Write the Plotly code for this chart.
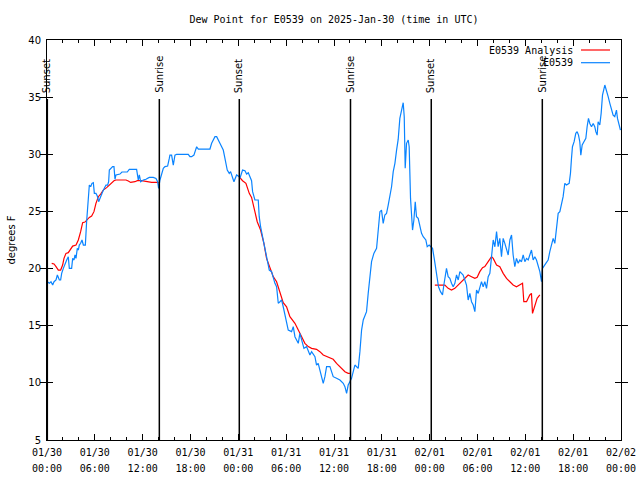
import plotly.graph_objects as go

# ---------------- data ----------------
station_hours = [0.04, 0.29, 0.50, 0.71, 0.88, 1.13, 1.30, 1.42, 1.55, 1.71, 1.84, 2.05, 2.26, 2.47, 2.67, 2.80,
                 3.09, 3.22, 3.39, 3.51, 3.64, 3.80, 3.93, 4.05, 4.22, 4.39, 4.56, 4.81, 4.97, 5.14, 5.31, 5.48,
                 5.64, 5.81, 5.94, 6.14, 6.31, 6.48, 6.65, 6.81, 6.98, 7.19, 7.40, 7.61, 7.73, 7.82, 7.98, 8.23,
                 8.40, 8.53, 8.65, 8.82, 9.15, 9.40, 10.07, 10.32, 11.24, 11.45, 11.58, 11.75, 12.08, 12.41, 12.83,
                 13.33, 13.67, 13.88, 14.00, 14.17, 14.38, 14.59, 14.80, 15.13, 15.34, 15.42, 15.63, 15.84, 16.05,
                 16.26, 17.72, 17.93, 18.14, 18.43, 18.77, 18.98, 20.44, 20.65, 21.07, 21.28, 21.69, 22.11, 22.32,
                 22.61, 22.86, 23.03, 23.24, 23.45, 23.78, 24.12, 24.20, 24.53, 24.83, 25.04, 25.25, 25.45, 25.66,
                 25.79, 26.08, 26.50, 26.62, 26.79, 27.00, 27.25, 27.46, 27.63, 27.88, 28.17, 28.38, 28.59, 28.80,
                 29.01, 29.22, 29.43, 29.63, 29.84, 30.26, 30.68, 30.89, 31.10, 31.52, 31.72, 31.93, 32.23, 32.56,
                 32.77, 32.98, 33.19, 33.61, 33.81, 34.02, 34.23, 34.65, 34.86, 35.07, 35.49, 35.70, 35.90, 36.32,
                 36.74, 37.16, 37.37, 37.58, 37.78, 37.99, 38.20, 38.62, 39.04, 39.25, 39.46, 39.67, 40.08, 40.29,
                 40.50, 40.71, 41.00, 41.34, 41.55, 41.76, 41.96, 42.17, 42.38, 42.59, 42.80, 43.01, 43.22, 43.43,
                 43.64, 43.85, 44.05, 44.26, 44.47, 44.68, 44.81, 44.93, 45.10, 45.31, 45.43, 45.60, 45.85, 46.02,
                 46.19, 46.35, 46.56, 46.77, 46.98, 47.19, 47.52, 47.69, 47.94, 48.15, 48.36, 48.57, 48.78, 48.94,
                 49.11, 49.36, 49.61, 49.78, 49.95, 50.11, 50.32, 50.53, 50.74, 50.95, 51.16, 51.37, 51.58, 51.79,
                 52.00, 52.20, 52.41, 52.62, 52.83, 53.04, 53.25, 53.46, 53.67, 53.88, 54.09, 54.29, 54.50, 54.71,
                 54.92, 55.13, 55.34, 55.55, 55.76, 55.97, 56.18, 56.39, 56.59, 56.80, 57.01, 57.22, 57.43, 57.64,
                 57.85, 58.06, 58.27, 58.47, 58.68, 58.89, 59.10, 59.31, 59.52, 59.73, 59.94, 60.15, 60.36, 60.56,
                 60.77, 60.98, 61.19, 61.40, 61.61, 61.82, 62.03, 62.15, 62.57, 62.86, 63.07, 63.28, 63.49, 63.70,
                 63.82, 63.99, 64.12, 64.33, 64.54, 64.74, 64.95, 65.16, 65.50, 65.66, 65.79, 65.91, 66.12, 66.33,
                 66.50, 66.67, 66.83, 66.96, 67.13, 67.34, 67.59, 67.75, 67.92, 68.09, 68.30, 68.51, 68.71, 68.84,
                 69.01, 69.13, 69.34, 69.51, 69.68, 69.97, 70.18, 70.39, 70.60, 70.81, 71.01, 71.22, 71.43, 71.56,
                 71.77, 71.93]
station_dewpt = [18.85, 18.71, 18.85, 18.56, 18.85, 19.00, 19.44, 19.29, 19.00, 19.00, 19.58, 20.02, 20.46, 20.75,
                 21.04, 20.02, 20.02, 20.89, 20.75, 21.19, 20.89, 21.77, 21.62, 22.06, 22.21, 22.50, 22.06, 22.06,
                 24.10, 25.41, 27.31, 27.16, 27.46, 27.52, 26.58, 26.58, 26.35, 25.85, 26.14, 26.58, 26.72, 27.02,
                 27.31, 27.31, 27.60, 28.62, 28.77, 28.92, 28.92, 27.81, 28.19, 28.24, 28.27, 28.45, 28.45, 28.68,
                 28.68, 27.75, 28.19, 27.60, 27.75, 27.81, 27.98, 27.98, 27.89, 27.60, 27.02, 27.75, 28.33, 28.77,
                 28.92, 28.97, 29.64, 29.93, 29.93, 29.06, 29.93, 30.00, 30.00, 29.79, 29.79, 29.93, 30.66, 30.46,
                 30.46, 30.96, 31.54, 31.54, 30.96, 30.37, 29.64, 28.62, 28.33, 28.48, 28.04, 27.60, 28.19, 28.04,
                 27.89, 28.62, 28.56, 28.27, 28.39, 28.04, 27.69, 26.73, 26.00, 26.00, 24.54, 23.66, 22.79, 22.06,
                 21.33, 20.75, 19.87, 19.73, 19.14, 18.71, 18.41, 16.96, 17.10, 17.25, 16.66, 15.94, 14.62, 14.48,
                 14.92, 14.04, 13.46, 14.33, 13.75, 13.02, 13.17, 12.87, 12.44, 12.73, 12.29, 11.56, 11.71, 11.12,
                 9.96, 10.54, 11.42, 11.42, 10.83, 10.54, 10.40, 10.25, 9.96, 9.67, 9.08, 9.81, 10.10, 10.40, 11.56,
                 11.27, 12.73, 14.62, 15.50, 16.23, 17.83, 19.29, 20.60, 21.33, 21.77, 23.37, 24.98, 25.12, 23.96,
                 24.69, 24.83, 25.56, 26.29, 27.16, 28.48, 29.21, 30.37, 31.30, 33.14, 33.73, 34.51, 33.29, 28.77,
                 30.96, 31.25, 30.66, 26.14, 23.37, 24.25, 25.85, 24.54, 24.39, 23.81, 23.08, 22.79, 22.50, 21.91,
                 22.06, 21.91, 21.77, 20.89, 19.73, 19.29, 18.41, 17.98, 17.69, 18.56, 19.58, 20.02, 19.29, 19.14,
                 18.71, 18.41, 18.71, 19.44, 19.00, 19.73, 19.58, 19.44, 19.00, 18.56, 17.25, 17.83, 17.10, 16.81,
                 16.23, 18.12, 17.83, 18.27, 18.85, 18.41, 18.85, 18.27, 19.29, 19.58, 21.04, 22.50, 21.91, 23.23,
                 21.91, 22.64, 21.04, 22.64, 22.21, 21.62, 21.19, 22.50, 22.94, 21.19, 20.17, 20.89, 20.46, 20.75,
                 20.60, 21.19, 20.60, 20.89, 20.75, 21.19, 21.62, 20.75, 21.04, 20.75, 20.31, 19.73, 18.85, 20.02,
                 20.46, 20.75, 21.48, 22.21, 22.64, 22.21, 22.94, 24.10, 24.83, 24.98, 25.71, 26.29, 27.46, 27.31,
                 27.46, 28.33, 29.64, 30.66, 31.10, 31.83, 31.98, 31.68, 31.10, 29.93, 30.81, 31.10, 31.39, 32.41,
                 33.14, 32.70, 32.41, 32.70, 32.41, 31.98, 31.68, 32.85, 32.56, 33.58, 35.18, 36.06, 35.62, 35.04,
                 34.46, 33.87, 33.43, 33.29, 33.87, 33.14, 32.41, 32.12]

analysis_hours = [0.59, 0.88, 1.13, 1.42, 1.71, 1.96, 2.13, 2.38, 2.67, 2.97, 3.22, 3.64, 3.93, 4.22, 4.47, 4.76,
                  4.97, 5.31, 5.60, 5.89, 6.14, 6.44, 6.73, 7.06, 7.48, 7.82, 8.11, 8.40, 8.65, 9.91, 10.20, 10.49,
                  11.03, 11.33, 11.87, 12.50, 13.12, 13.75, 14.00, None,
                  24.20, 24.53, 24.95, 25.37, 25.66, 26.08, 26.37, 26.79, 27.21, 27.54, 27.96, 28.38, 28.80, 29.22,
                  29.63, 30.05, 30.47, 31.10, 31.52, 31.93, 32.35, 32.77, 33.19, 33.81, 34.23, 34.65, 35.28, 35.90,
                  36.32, 36.95, 37.37, 37.78, 37.99, None,
                  48.65, 49.91, 50.32, 50.74, 51.16, 51.58, 52.00, 52.41, 52.83, 53.25, 53.67, 53.96, 54.29, 54.63,
                  54.92, 55.34, 55.76, 55.97, 56.39, 56.80, 57.22, 57.64, 58.06, 58.47, 58.89, 59.31, 59.65, 59.81,
                  60.15, 60.56, 60.77, 60.90, 61.19, 61.48, 61.82]
analysis_dewpt = [20.46, 20.40, 20.17, 19.87, 19.87, 20.31, 20.89, 21.33, 21.39, 21.77, 21.97, 22.06, 22.50, 23.23,
                  24.01, 24.07, 24.25, 24.48, 24.60, 24.98, 25.71, 26.29, 26.52, 26.87, 27.08, 27.31, 27.52, 27.69,
                  27.75, 27.75, 27.66, 27.54, 27.60, 27.69, 27.69, 27.60, 27.54, 27.54, 27.52, None,
                  27.95, 27.69, 27.46, 26.58, 26.23, 25.12, 24.10, 23.37, 22.21, 20.89, 20.17, 19.29, 18.85, 17.83,
                  17.01, 16.66, 15.79, 15.21, 14.62, 14.04, 13.46, 13.17, 13.02, 12.93, 12.73, 12.44, 12.23, 12.06,
                  11.71, 11.27, 10.98, 10.83, 10.83, None,
                  18.56, 18.56, 18.27, 18.12, 18.27, 18.56, 18.85, 19.14, 19.44, 19.29, 19.14, 19.23, 19.73, 20.08,
                  20.17, 20.60, 21.04, 20.89, 20.31, 20.17, 19.58, 19.14, 18.85, 18.56, 18.41, 18.56, 18.71, 17.10,
                  17.10, 17.69, 17.83, 16.08, 16.66, 17.40, 17.69]

sun_hours = [0.04, 14.09, 24.12, 38.07, 48.20, 62.13]
sun_labels = ["Sunset", "Sunrise", "Sunset", "Sunrise", "Sunset", "Sunrise"]

tick_hours = [0, 6, 12, 18, 24, 30, 36, 42, 48, 54, 60, 66, 72]
tick_dates = ["01/30", "01/30", "01/30", "01/30", "01/31", "01/31", "01/31", "01/31",
              "02/01", "02/01", "02/01", "02/01", "02/02"]
tick_times = ["00:00", "06:00", "12:00", "18:00", "00:00", "06:00", "12:00", "18:00",
              "00:00", "06:00", "12:00", "18:00", "00:00"]

analysis_name = "E0539 Analysis"
station_name = "E0539"
title_text = "Dew Point for E0539 on 2025-Jan-30 (time in UTC)"

# ---------------- figure ----------------
RED = "#ff0000"
BLUE = "#0a84ff"
MONO = "DejaVu Sans Mono"
SANS = "DejaVu Sans"

W, H = 640, 480
L, R, T, B = 47, 19, 40, 40
PH = H - T - B


def py(px):
    """pixel row -> paper y"""
    return (H - B - px) / PH


def pxx(px):
    """pixel column -> paper x"""
    return (px - L) / (W - L - R)


fig = go.Figure()
fig.add_trace(go.Scatter(x=analysis_hours, y=analysis_dewpt, mode="lines", name=analysis_name,
                         line=dict(color=RED, width=1.2), connectgaps=False, showlegend=False))
fig.add_trace(go.Scatter(x=station_hours, y=station_dewpt, mode="lines", name=station_name,
                         line=dict(color=BLUE, width=1.2), showlegend=False))
# invisible carrier trace for the second (time-of-day) label row
fig.add_trace(go.Scatter(x=[tick_hours[0], tick_hours[-1]], y=[None, None], xaxis="x2",
                         mode="lines", showlegend=False, hoverinfo="skip"))

for h, lab in zip(sun_hours, sun_labels):
    fig.add_shape(type="line", xref="x", yref="paper", x0=h, x1=h, y0=0, y1=py(99),
                  line=dict(color="black", width=1.5))
    fig.add_annotation(x=h, xref="x", y=py(95), yref="paper", text=lab, textangle=-90,
                       showarrow=False, xanchor="center", yanchor="bottom",
                       font=dict(family=SANS, size=10, color="black"))

# legend (gnuplot style: text right-aligned, sample on the right)
for i, (nm, col) in enumerate([(analysis_name, RED), (station_name, BLUE)]):
    yrow = 50 + i * 12.7
    fig.add_annotation(x=pxx(575), xref="paper", y=py(yrow), yref="paper", text=nm,
                       showarrow=False, xanchor="right", yanchor="middle",
                       font=dict(family=MONO, size=10, color="black"))
    fig.add_shape(type="line", xref="paper", yref="paper", x0=pxx(581), x1=pxx(610),
                  y0=py(yrow), y1=py(yrow), line=dict(color=col, width=1.2))

fig.update_layout(
    width=W, height=H, autosize=False,
    margin=dict(l=L, r=R, t=T, b=B, pad=0, autoexpand=False),
    paper_bgcolor="white", plot_bgcolor="white",
    title=dict(text=title_text, x=0.5, xref="paper", y=1 - 19 / H, yanchor="middle",
               font=dict(family=MONO, size=10, color="black"), automargin=False),
    showlegend=False,
    xaxis2=dict(overlaying="x", anchor="y", side="bottom", range=[0, 72], tickvals=tick_hours,
                ticktext=tick_times, ticks="", showline=False, showgrid=False, zeroline=False,
                automargin=False, ticklabelstandoff=21,
                tickfont=dict(family=MONO, size=10, color="black")),
)
fig.update_layout(xaxis=dict(range=[0, 72], tickvals=tick_hours, ticktext=tick_dates, automargin=False,
                             showgrid=False, zeroline=False, showline=True, linecolor="black", linewidth=1,
                             mirror="allticks", ticks="inside", ticklen=6, tickcolor="black",
                             ticklabelstandoff=3,
                             tickfont=dict(family=MONO, size=10, color="black"),
                             minor=dict(dtick=2, ticks="inside", ticklen=3, tickcolor="black",
                                        showgrid=False)))
fig.update_yaxes(range=[5, 40], dtick=5, tick0=5, showgrid=False, zeroline=False, automargin=False,
                 showline=True, linecolor="black", linewidth=1,
                 mirror="allticks", ticks="inside", ticklen=6, tickcolor="black",
                 ticklabelstandoff=3,
                 tickfont=dict(family=SANS, size=10, color="black"),
                 title=dict(text="degrees F", font=dict(family=SANS, size=10, color="black"), standoff=10))

fig.write_html("out.html", config={"displayModeBar": False},
               post_script="document.body.style.margin='0';")
